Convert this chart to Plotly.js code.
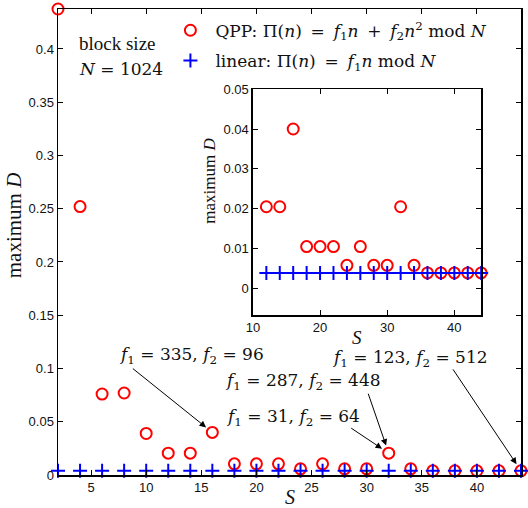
<!DOCTYPE html>
<html>
<head>
<meta charset="utf-8">
<script src="https://cdn.plot.ly/plotly-3.0.1.min.js"></script>
<style>html,body{margin:0;padding:0;background:#fff;}#chart{width:528px;height:508px;}</style>
</head>
<body>
<div id="chart"></div>
<script>
// Data
const S = [2,4,6,8,10,12,14,16,18,20,22,24,26,28,30,32,34,36,38,40,42,44];
const qppD = [0.4375,0.252,0.076,0.077,0.039,0.0205,0.0205,0.040,0.0105,0.0105,0.0105,0.0058,0.0105,0.0058,0.0058,0.0205,0.0058,0.0039,0.0039,0.0039,0.0039,0.0039];
const linD = [0.0039,0.0039,0.0039,0.0039,0.0039,0.0039,0.0039,0.0039,0.0039,0.0039,0.0039,0.0039,0.0039,0.0039,0.0039,0.0039,0.0039,0.0039,0.0039,0.0039,0.0039,0.0039];
const insetStart = 5; // inset shows S >= 12
const mainXTicks = [5,10,15,20,25,30,35,40];
const mainYTicks = [0,0.05,0.1,0.15,0.2,0.25,0.3,0.35,0.4];
const insetXTicks = [10,20,30,40];
const insetYTicks = [0,0.01,0.02,0.03,0.04,0.05];
const t = '\u2009';
const qppLabel = 'QPP: Π(<i>n</i>) '+t+'='+t+' <i>f</i><sub>1</sub><i>n</i> '+t+'+'+t+' <i>f</i><sub>2</sub><i>n</i><sup>2</sup> mod <i>N</i>';
const linLabel = 'linear: Π(<i>n</i>) '+t+'='+t+' <i>f</i><sub>1</sub><i>n</i> mod <i>N</i>';
const notes = [
  {S:16, D:0.040, text:'<i>f</i><sub>1</sub> = 335, <i>f</i><sub>2</sub> = 96'},
  {S:32, D:0.0205, text:'<i>f</i><sub>1</sub> = 287, <i>f</i><sub>2</sub> = 448'},
  {S:32, D:0.0205, text:'<i>f</i><sub>1</sub> = 31, <i>f</i><sub>2</sub> = 64'},
  {S:44, D:0.0039, text:'<i>f</i><sub>1</sub> = 123, <i>f</i><sub>2</sub> = 512'}
];

const serif = 'Liberation Serif, Times New Roman, serif';
const wserif = 'DejaVu Serif, serif';
const sans = 'Liberation Sans, Arial, sans-serif';
const red = '#ff0000', blue = '#0000ff';

const circ = {symbol:'circle-open', size:11, color:red, line:{width:2, color:red}};
const plus = {symbol:'cross-thin-open', size:10, color:blue, line:{width:2, color:blue}};

const traces = [
  {x:S, y:qppD, mode:'markers', marker:circ, name:qppLabel, legendgroup:'a', cliponaxis:false, xaxis:'x', yaxis:'y'},
  {x:S, y:linD, mode:'markers', marker:plus, name:linLabel, legendgroup:'b', cliponaxis:false, xaxis:'x', yaxis:'y'},
  {x:S.slice(insetStart), y:qppD.slice(insetStart), mode:'markers', marker:circ, showlegend:false, cliponaxis:false, xaxis:'x2', yaxis:'y2'},
  {x:S.slice(insetStart), y:linD.slice(insetStart), mode:'markers', marker:plus, showlegend:false, cliponaxis:false, xaxis:'x2', yaxis:'y2'}
];

const axBase = {showline:true, linecolor:'#000', linewidth:1.5, mirror:'ticks', ticks:'inside', ticklen:5, tickcolor:'#000', showgrid:false, zeroline:false, tickfont:{family:sans, size:13, color:'#111'}};

const txt = (s) => ({family:wserif, size:s, color:'#111'});
const ptxt = (s) => ({family:serif, size:s, color:'#111'});
const layout = {
  width:528, height:508,
  margin:{l:58, r:7, t:9, b:33},
  paper_bgcolor:'#fff', plot_bgcolor:'rgba(0,0,0,0)',
  showlegend:true,
  legend:{x:0.232, y:0.992, xanchor:'left', yanchor:'top', bgcolor:'rgba(0,0,0,0)', borderwidth:0, itemwidth:40, font:txt(17), tracegroupgap:5, traceorder:'grouped'},
  xaxis:Object.assign({}, axBase, {range:[2,44], tickvals:mainXTicks}),
  yaxis:Object.assign({}, axBase, {range:[0,0.4375], tickvals:mainYTicks}),
  xaxis2:Object.assign({}, axBase, {domain:[0.421,0.914], anchor:'y2', range:[10,44], tickvals:insetXTicks}),
  yaxis2:Object.assign({}, axBase, {domain:[0.343,0.828], anchor:'x2', range:[-0.0067,0.05], tickvals:insetYTicks}),
  annotations:[
    // axis titles
    {xref:'paper', yref:'paper', x:0.501, y:-0.048, xanchor:'center', yanchor:'middle', showarrow:false, text:'<i>S</i>', font:ptxt(20)},
    {xref:'paper', yref:'paper', x:-0.095, y:0.536, xanchor:'center', yanchor:'middle', showarrow:false, textangle:-90, text:'maximum <i>D</i>', font:ptxt(21)},
    {xref:'paper', yref:'paper', x:0.646, y:0.296, xanchor:'center', yanchor:'middle', showarrow:false, text:'<i>S</i>', font:ptxt(19)},
    {xref:'paper', yref:'paper', x:0.328, y:0.631, xanchor:'center', yanchor:'middle', showarrow:false, textangle:-90, text:'maximum <i>D</i>', font:ptxt(17)},
    // block size
    {xref:'paper', yref:'paper', x:0.04, y:0.925, xanchor:'left', yanchor:'middle', showarrow:false, align:'left', text:'block size', font:ptxt(19)},
    {xref:'paper', yref:'paper', x:0.04, y:0.872, xanchor:'left', yanchor:'middle', showarrow:false, align:'left', text:'<i>N</i> = 1024', font:txt(17)},
    // arrows
    {x:notes[0].S, y:notes[0].D, xref:'x', yref:'y', text:'', showarrow:true, arrowhead:2, arrowsize:1.3, arrowwidth:1, arrowcolor:'#000', ax:-81, ay:-65, standoff:8},
    {x:notes[1].S, y:notes[1].D, xref:'x', yref:'y', text:'', showarrow:true, arrowhead:2, arrowsize:1.3, arrowwidth:1, arrowcolor:'#000', ax:-21, ay:-61, standoff:8},
    {x:notes[2].S, y:notes[2].D, xref:'x', yref:'y', text:'', showarrow:true, arrowhead:2, arrowsize:1.3, arrowwidth:1, arrowcolor:'#000', ax:-39, ay:-26, standoff:8},
    {x:notes[3].S, y:notes[3].D, xref:'x', yref:'y', text:'', showarrow:true, arrowhead:2, arrowsize:1.3, arrowwidth:1, arrowcolor:'#000', ax:-69, ay:-103, standoff:8},
    // labels
    {x:notes[0].S, y:notes[0].D, xref:'x', yref:'y', text:notes[0].text, showarrow:true, arrowwidth:0.1, arrowcolor:'rgba(0,0,0,0)', ax:-21, ay:-77, font:txt(17)},
    {x:notes[1].S, y:notes[1].D, xref:'x', yref:'y', text:notes[1].text, showarrow:true, arrowwidth:0.1, arrowcolor:'rgba(0,0,0,0)', ax:-86, ay:-72, font:txt(17)},
    {x:notes[2].S, y:notes[2].D, xref:'x', yref:'y', text:notes[2].text, showarrow:true, arrowwidth:0.1, arrowcolor:'rgba(0,0,0,0)', ax:-96, ay:-36, font:txt(17)},
    {x:notes[3].S, y:notes[3].D, xref:'x', yref:'y', text:notes[3].text, showarrow:true, arrowwidth:0.1, arrowcolor:'rgba(0,0,0,0)', ax:-111, ay:-112, font:txt(17)}
  ]
};

Plotly.newPlot('chart', traces, layout, {displayModeBar:false, staticPlot:true});
</script>
</body>
</html>
